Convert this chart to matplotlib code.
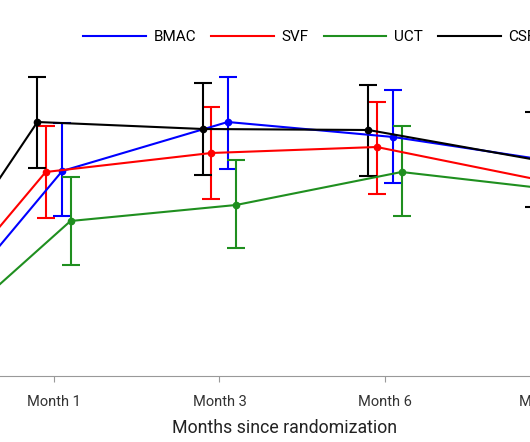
import numpy as np
import matplotlib.pyplot as plt

plt.rcParams['font.family'] = ['Roboto', 'DejaVu Sans']

# time points (category axis)
timepoints = ['Baseline', 'Month 1', 'Month 3', 'Month 6', 'Month 12']

# group means and 95% CI bounds
bmac = [0, 19.8, 24.7, 23.2, 20.7]
bmac_lo = [0, 15.3, 20.0, 18.6, 16.1]
bmac_hi = [0, 24.6, 29.2, 27.9, 25.3]

svf = [0, 19.7, 21.6, 22.2, 18.85]
svf_lo = [0, 15.1, 17.0, 17.5, 14.3]
svf_hi = [0, 24.3, 26.2, 26.7, 23.4]

uct = [0, 14.8, 16.4, 19.7, 17.8]
uct_lo = [0, 10.4, 12.1, 15.3, 13.4]
uct_hi = [0, 19.2, 20.9, 24.3, 22.2]

csf = [0, 24.7, 24.0, 23.9, 20.95]
csf_lo = [0, 20.1, 19.4, 19.3, 16.2]
csf_hi = [0, 29.2, 28.6, 28.4, 25.7]

groups = ['BMAC', 'SVF', 'UCT', 'CSF']
means = [bmac, svf, uct, csf]
lows = [bmac_lo, svf_lo, uct_lo, csf_lo]
highs = [bmac_hi, svf_hi, uct_hi, csf_hi]
colors = ['#0000ff', '#ff0000', '#1f8f1f', '#000000']
offsets = [0.05, -0.05, 0.10, -0.10]

fig = plt.figure(figsize=(5.3, 4.42), dpi=100)
# the axes run past the right edge of the figure, as in the cropped original
ax = fig.add_axes([0.0, 66 / 442, 600 / 530, 316 / 442])

x = np.arange(len(timepoints))
for name, m, lo, hi, c, off in zip(groups, means, lows, highs, colors, offsets):
    m = np.array(m)
    yerr = np.vstack([m - np.array(lo), np.array(hi) - m])
    ax.errorbar(x + off, m, yerr=yerr, color=c, lw=1.5, marker='o', ms=4.5,
                capsize=6.5, capthick=1.5, elinewidth=1.5, label=name)

ax.set_xticks(x)
ax.set_xticklabels(timepoints, fontsize=10.5, color='#333333')
ax.set_yticks([])
ax.set_xlim(0.674, 0.674 + 600 / 165.5)
ax.set_ylim(-0.7, 30.9)
for s in ['left', 'right', 'top']:
    ax.spines[s].set_visible(False)
ax.spines['bottom'].set_color('#999999')
ax.tick_params(axis='x', length=4, color='#999999', pad=10)
ax.set_xlabel('Months since randomization', fontsize=12.8, color='#222222',
              labelpad=7, x=284.5 / 600)

handles = [plt.Line2D([], [], color=c, lw=1.5) for c in colors]
fig.legend(handles, groups, ncol=4, loc='center left', bbox_to_anchor=(83 / 530, 1 - 37 / 442),
           frameon=False, fontsize=11, handlelength=4.1, handletextpad=0.5,
           columnspacing=1.0, borderpad=0, borderaxespad=0)

fig.savefig('out.png', dpi=100)
